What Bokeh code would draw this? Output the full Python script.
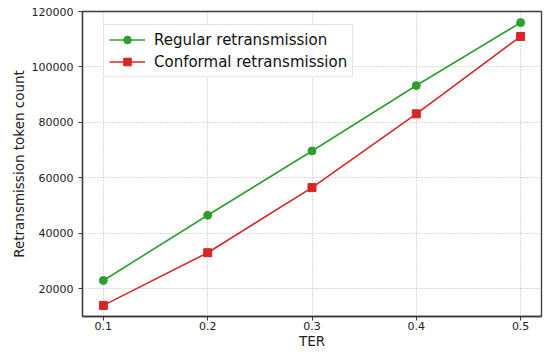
from bokeh.plotting import figure
from bokeh.models import Range1d, FixedTicker, Legend, LegendItem
from bokeh.embed import file_html
from bokeh.resources import INLINE

# ---- data ----
ter = [0.1, 0.2, 0.3, 0.4, 0.5]
regular = [23000, 46500, 69700, 93300, 116000]
conformal = [14000, 33000, 56500, 83100, 111000]
x_ticks = [0.1, 0.2, 0.3, 0.4, 0.5]
x_tick_labels = ["0.1", "0.2", "0.3", "0.4", "0.5"]
y_ticks = [20000, 40000, 60000, 80000, 100000, 120000]
y_tick_labels = ["20000", "40000", "60000", "80000", "100000", "120000"]
series_names = ["Regular retransmission", "Conformal retransmission"]

FONT = "DejaVu Sans"
GREEN = "#2ca02c"
RED = "#d62728"
SPINE = "#3a3a3a"

p = figure(width=545, height=352, output_backend="svg", toolbar_location=None,
           x_range=Range1d(0.08, 0.52), y_range=Range1d(10000, 120000),
           min_border_left=82, min_border_right=4, min_border_top=11,
           min_border_bottom=36)
p.background_fill_color = "white"
p.border_fill_color = "white"
p.outline_line_color = SPINE
p.outline_line_width = 1.3

# grid
for g in (p.xgrid, p.ygrid):
    g.grid_line_color = "#b0b0b0"
    g.grid_line_dash = "1 2"
    g.grid_line_width = 1
    g.grid_line_alpha = 0.9

# axes
p.xaxis.ticker = FixedTicker(ticks=x_ticks)
p.xaxis.major_label_overrides = {t: l for t, l in zip(x_ticks, x_tick_labels)}
p.yaxis.ticker = FixedTicker(ticks=y_ticks)
p.yaxis.major_label_overrides = {t: l for t, l in zip(y_ticks, y_tick_labels)}
for ax in (p.xaxis[0], p.yaxis[0]):
    ax.axis_line_color = SPINE
    ax.axis_line_width = 1.3
    ax.major_tick_line_color = SPINE
    ax.major_tick_out = 4
    ax.major_tick_in = 0
    ax.minor_tick_line_color = None
    ax.major_label_text_font = FONT
    ax.major_label_text_font_size = "11px"
    ax.major_label_text_color = "#222222"
    ax.axis_label_text_font = FONT
    ax.axis_label_text_font_size = "13.5px"
    ax.axis_label_text_font_style = "normal"
    ax.axis_label_text_color = "#222222"
p.xaxis.axis_label = "TER"
p.yaxis.axis_label = "Retransmission token count"
p.xaxis.major_label_standoff = 1
p.xaxis.axis_label_standoff = 0
p.yaxis.major_label_standoff = 5
p.yaxis.axis_label_standoff = 2

# series
l1 = p.line(ter, regular, line_color=GREEN, line_width=1.6)
m1 = p.scatter(ter, regular, marker="circle", size=8, fill_color=GREEN, line_color=GREEN)
l2 = p.line(ter, conformal, line_color=RED, line_width=1.6)
m2 = p.scatter(ter, conformal, marker="square", size=8, fill_color=RED, line_color=RED)

legend = Legend(items=[LegendItem(label=series_names[0], renderers=[l1, m1]),
                       LegendItem(label=series_names[1], renderers=[l2, m2])],
                location=(21, 239))
legend.label_text_font = FONT
legend.label_text_font_size = "15px"
legend.label_text_color = "#111111"
legend.padding = 5
legend.spacing = 3
legend.margin = 0
legend.label_height = 19
legend.glyph_height = 19
legend.glyph_width = 36
legend.label_standoff = 9
legend.border_line_color = "#cccccc"
legend.border_line_width = 1
legend.background_fill_color = "white"
legend.background_fill_alpha = 0.8
p.add_layout(legend, "center")

open("out.html", "w").write(file_html(p, INLINE))
